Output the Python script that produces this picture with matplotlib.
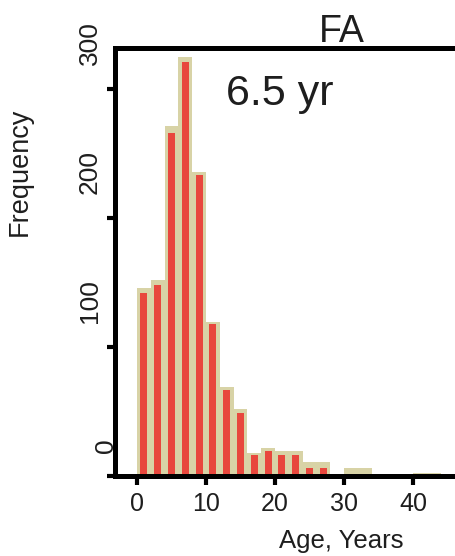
import matplotlib
matplotlib.use("Agg")
import matplotlib.pyplot as plt
import matplotlib.transforms as mtransforms

plt.rcParams['font.family'] = ['Liberation Sans', 'DejaVu Sans']

# histogram bins (2-year wide), left edges
bin_left = [0, 2, 4, 6, 8, 10, 12, 14, 16, 18, 20, 22, 24, 26, 28, 30, 32, 34, 36, 38, 40, 42]
# outer (tan) bar heights
tan_counts = [146, 152, 271, 325, 236, 119, 69, 52, 18, 22, 19, 19, 11, 11, 0, 6, 6, 0, 1, 1, 2, 2]
# inner (red) bar heights
red_counts = [142, 148, 266, 321, 233, 118, 67, 49, 16, 19, 16, 16, 6, 6, 0, 0, 0, 0, 0, 0, 0, 0]

yticks = [0, 100, 200, 300]
ytick_labels = ['0', '100', '200', '300']
xticks = [0, 10, 20, 30, 40]

tan = '#d8d3a6'
red = '#e8473d'
ink = '#1e1e1e'

fig = plt.figure(figsize=(4.56, 5.56), dpi=100)
ax = fig.add_axes([115 / 456, 1 - 476 / 556, 1 - 115 / 456, 428 / 556])

centers = [b + 1 for b in bin_left]
ax.bar(centers, tan_counts, width=2, color=tan, linewidth=0, zorder=1)
ax.bar(centers, red_counts, width=1.0, color=red, linewidth=0, zorder=1.5)

ax.set_xlim(-3.19, 46.23)
ax.set_ylim(0, 331.8)

for side in ['top', 'left', 'bottom']:
    ax.spines[side].set_linewidth(3.6)
    ax.spines[side].set_color('black')
ax.spines['right'].set_visible(False)

ax.set_xticks(xticks)
ax.set_xticklabels([str(v) for v in xticks], fontsize=18, color=ink)
ax.tick_params(axis='x', direction='out', length=6.5, width=3, pad=5)
ax.set_yticks(yticks)
ax.set_yticklabels([])
ax.tick_params(axis='y', direction='out', length=6, width=3)

# y tick labels, drawn parallel to the axis and shifted up like the original
base = mtransforms.blended_transform_factory(fig.transFigure, ax.transData)
for v, lab in zip(yticks, ytick_labels):
    if lab == '0':
        xr, dy = 118 / 456, 23
    else:
        xr, dy = 102 / 456, 24
    tr = mtransforms.offset_copy(base, fig=fig, x=0, y=dy, units='dots')
    ax.text(xr, v, lab, transform=tr, rotation=90, ha='right', va='bottom',
            fontsize=19, color=ink, zorder=1)

fig.text(20 / 456, 1 - 172 / 556, 'Frequency', rotation=90, ha='center', va='center',
         fontsize=19.5, color=ink)
fig.text(341 / 456, 1 - 548 / 556, 'Age, Years', ha='center', va='baseline',
         fontsize=18.5, color=ink)
fig.text(342 / 456, 1 - 42 / 556, 'FA', ha='center', va='baseline',
         fontsize=27, color=ink)
fig.text(226 / 456, 1 - 105 / 556, '6.5 yr', ha='left', va='baseline',
         fontsize=31, color=ink)

fig.savefig('out.png', dpi=100)
